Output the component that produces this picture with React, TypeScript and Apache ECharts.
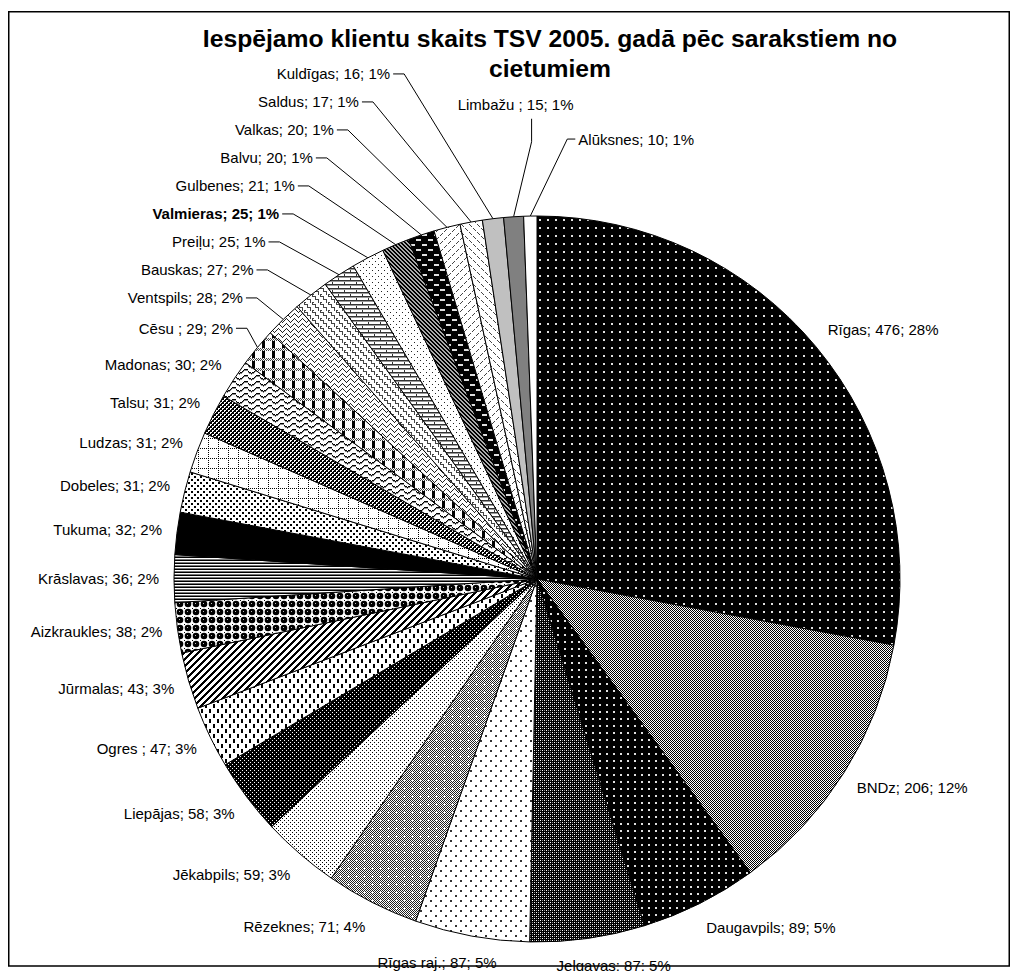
import React, { useEffect, useRef } from "react";
import * as echarts from "echarts";

const TITLE_LINES = ["Iespējamo klientu skaits TSV 2005. gadā pēc sarakstiem no", "cietumiem"];
const categories = [
  "Rīgas", "BNDz", "Daugavpils", "Jelgavas", "Rīgas raj.", "Rēzeknes", "Jēkabpils", "Liepājas",
  "Ogres ", "Jūrmalas", "Aizkraukles", "Krāslavas", "Tukuma", "Dobeles", "Ludzas", "Talsu",
  "Madonas", "Cēsu ", "Ventspils", "Bauskas", "Preiļu", "Valmieras", "Gulbenes", "Balvu",
  "Valkas", "Saldus", "Kuldīgas", "Limbažu ", "Alūksnes",
];
const values = [476, 206, 89, 87, 87, 71, 59, 58, 47, 43, 38, 36, 32, 31, 31, 31, 30, 29, 28, 27, 25, 25, 21, 20, 20, 17, 16, 15, 10];
const boldLabels = ["Valmieras"];
const aboveLabels = ["Limbažu"];
const rightLabels = ["Alūksnes"];

type Ctx = CanvasRenderingContext2D;
function tile(w: number, h: number, bg: string, draw?: (g: Ctx) => void) {
  const c = document.createElement("canvas");
  c.width = w;
  c.height = h;
  const g = c.getContext("2d") as Ctx;
  g.fillStyle = bg;
  g.fillRect(0, 0, w, h);
  if (draw) draw(g);
  return c;
}
function px(g: Ctx, color: string, pts: number[][]) {
  g.fillStyle = color;
  for (const p of pts) g.fillRect(p[0], p[1], p[2] ?? 1, p[3] ?? 1);
}

function buildPatterns(): HTMLCanvasElement[] {
  const list: HTMLCanvasElement[] = [];
  list.push(tile(8, 8, "#000", (g) => px(g, "#e0e0e0", [[3, 3, 2, 2]]))); // Rīgas
  list.push(tile(2, 2, "#fff", (g) => px(g, "#000", [[0, 0], [1, 1]]))); // BNDz
  list.push(tile(7, 7, "#000", (g) => px(g, "#e0e0e0", [[3, 3, 2, 2]]))); // Daugavpils
  list.push(tile(4, 4, "#000", (g) => { px(g, "#fff", [[0, 0], [2, 2]]); px(g, "#888", [[0, 2], [2, 0]]); })); // Jelgavas
  list.push(tile(10, 10, "#fff", (g) => px(g, "#333", [[2, 2, 2, 2], [7, 7, 2, 2]]))); // Rīgas raj.
  list.push(tile(8, 8, "#fff", (g) => { // Rēzeknes
    for (let y = 0; y < 8; y++) for (let x = 0; x < 8; x++) if ((x + y) % 2 === 0) px(g, "#222", [[x, y]]);
    px(g, "#fff", [[4, 3], [3, 4], [4, 4], [5, 4], [4, 5]]);
  }));
  list.push(tile(4, 4, "#fff", (g) => px(g, "#000", [[0, 0], [2, 2]]))); // Jēkabpils
  list.push(tile(4, 4, "#000", (g) => px(g, "#fff", [[0, 0], [2, 2]]))); // Liepājas
  list.push(tile(8, 10, "#fff", (g) => px(g, "#000", [[1, 1, 2, 4], [5, 6, 2, 4]]))); // Ogres
  list.push(tile(7, 7, "#fff", (g) => { // Jūrmalas
    for (let y = 0; y < 7; y++) for (let x = 0; x < 7; x++) if ((x + y) % 7 < 3) px(g, "#000", [[x, y]]);
  }));
  list.push(tile(8, 8, "#fff", (g) => { // Aizkraukles
    g.fillStyle = "#000";
    g.beginPath(); g.arc(4, 4, 3.3, 0, Math.PI * 2); g.fill();
    px(g, "#bbb", [[3, 3]]);
    px(g, "#000", [[0, 0]]);
  }));
  list.push(tile(2, 3, "#fff", (g) => { px(g, "#000", [[0, 0, 2, 1]]); px(g, "#777", [[0, 2, 2, 1]]); })); // Krāslavas
  list.push(tile(2, 2, "#000")); // Tukuma
  list.push(tile(6, 6, "#fff", (g) => px(g, "#000", [[0, 0, 2, 2], [3, 3, 2, 2]]))); // Dobeles
  list.push(tile(10, 10, "#fff", (g) => { for (let i = 0; i < 10; i += 2) px(g, "#000", [[i, 0], [0, i]]); })); // Ludzas
  list.push(tile(4, 4, "#fff", (g) => px(g, "#000", [[0, 0, 2, 2], [2, 2, 2, 2], [1, 3], [3, 1]]))); // Talsu
  list.push(tile(12, 6, "#fff", (g) => { // Madonas
    for (let x = 0; x < 12; x++) { const y = Math.round(2.5 + 2 * Math.sin((2 * Math.PI * x) / 12)); px(g, "#000", [[x, y]]); px(g, "#888", [[x, (y + 1) % 6]]); }
  }));
  list.push(tile(10, 10, "#fff", (g) => { // Cēsu
    for (let y = 0; y < 3; y++) for (let x = 0; x < 10; x++) if ((x + y) % 2 === 0) px(g, "#444", [[x, y]]);
    px(g, "#000", [[4, 3, 3, 7]]);
  }));
  list.push(tile(8, 5, "#fff", (g) => { // Ventspils
    for (let x = 0; x < 8; x++) { const y = Math.round(2 + 1.6 * Math.sin((2 * Math.PI * x) / 8)); px(g, "#222", [[x, y]]); }
  }));
  list.push(tile(8, 8, "#fff", (g) => px(g, "#444", [[0, 0, 4, 1], [3, 0, 1, 4], [3, 3, 4, 1], [6, 3, 1, 4], [0, 6, 1, 2], [0, 6, 2, 1]]))); // Bauskas
  list.push(tile(12, 8, "#fff", (g) => { px(g, "#333", [[0, 0, 12, 1], [0, 4, 12, 1], [0, 0, 1, 4], [6, 4, 1, 4]]); px(g, "#999", [[0, 1, 12, 1], [0, 5, 12, 1]]); })); // Preiļu
  list.push(tile(6, 6, "#fff", (g) => px(g, "#222", [[1, 1], [4, 4]]))); // Valmieras
  list.push(tile(4, 4, "#000", (g) => { // Gulbenes
    for (let y = 0; y < 4; y++) for (let x = 0; x < 4; x++) if ((x - y + 8) % 4 < 2) px(g, "#aaa", [[x, y]]);
  }));
  list.push(tile(12, 10, "#000", (g) => px(g, "#ddd", [[0, 1, 5, 2], [6, 6, 5, 2]]))); // Balvu
  list.push(tile(8, 8, "#fff", (g) => px(g, "#444", [[0, 3], [1, 2], [2, 1], [4, 7], [5, 6], [6, 5]]))); // Valkas
  list.push(tile(8, 8, "#fff", (g) => px(g, "#444", [[1, 4], [2, 5], [3, 6], [5, 0], [6, 1], [7, 2]]))); // Saldus
  list.push(tile(2, 2, "#c0c0c0")); // Kuldīgas
  list.push(tile(2, 2, "#808080")); // Limbažu
  list.push(tile(2, 2, "#fff")); // Alūksnes
  return list;
}

const CX = 529;
const CY = 571;
const R = 363;

export default function App() {
  const ref = useRef<HTMLDivElement>(null);
  useEffect(() => {
    document.body.style.overflow = "hidden";
    const chart = echarts.init(ref.current as HTMLDivElement, undefined, { renderer: "svg" });
    const patterns = buildPatterns();
    const total = values.reduce((a, b) => a + b, 0);
    const midAngles: number[] = [];
    let cum = 0;
    values.forEach((v) => {
      midAngles.push(((90 - (360 * (cum + v / 2)) / total) * Math.PI) / 180);
      cum += v;
    });
    const edge = (i: number) => [CX + R * Math.cos(midAngles[i]), CY - R * Math.sin(midAngles[i])];
    const special = (i: number) => {
      const n = categories[i].trim();
      return aboveLabels.includes(n) || rightLabels.includes(n);
    };
    const hasLine = (i: number) => values[i] < 30;

    // stacked (leader-line) labels on the upper left, pushed upwards
    const stackY: Record<number, number> = {};
    let prevY = Infinity;
    for (let i = 0; i < values.length; i++) {
      if (!hasLine(i) || special(i)) continue;
      const ny = CY - (R + 30) * Math.sin(midAngles[i]);
      const y = Math.min(ny, prevY - 28);
      stackY[i] = y;
      prevY = y;
    }

    const data = categories.map((name, i) => {
      const p = patterns[i];
      const item: any = {
        name,
        value: values[i],
        itemStyle: { color: { image: p, repeat: "repeat", imageWidth: p.width, imageHeight: p.height } },
        labelLine: { show: hasLine(i) },
      };
      if (boldLabels.includes(name.trim())) item.label = { fontWeight: "bold" };
      return item;
    });
    const font = "'Liberation Sans', Arial, sans-serif";
    chart.setOption({
      animation: false,
      graphic: [
        ...TITLE_LINES.map((t, i) => ({
          type: "text",
          x: 542,
          y: 30 + i * 30,
          style: { text: t, fontSize: 24.7, fontWeight: "bold", fontFamily: font, fill: "#000", align: "center", verticalAlign: "middle" },
        })),
        {
          type: "rect",
          z: 100,
          shape: { x: 0.75, y: 3.75, width: 1000.5, height: 954.25 },
          style: { fill: "none", stroke: "#000", lineWidth: 1.5 },
          silent: true,
        },
      ],
      series: [
        {
          type: "pie",
          center: [CX, CY],
          radius: R,
          startAngle: 90,
          clockwise: true,
          silent: true,
          data,
          itemStyle: { borderColor: "#000", borderWidth: 1 },
          label: {
            show: true,
            position: "outside",
            color: "#000",
            fontSize: 15,
            fontFamily: font,
            formatter: (p: any) => `${p.name}; ${p.value}; ${Math.round((p.value / total) * 100)}%`,
          },
          labelLine: { show: false, length: 10, length2: 8, lineStyle: { color: "#000", width: 1 } },
          labelLayout: (params: any) => {
            const i = params.dataIndex;
            const name = categories[i].trim();
            const [ex, ey] = edge(i);
            if (aboveLabels.includes(name)) {
              return {
                x: ex + 2,
                y: ey - 112,
                align: "center",
                verticalAlign: "middle",
                labelLinePoints: [[ex, ey], [ex + 18, ey - 75], [ex + 18, ey - 98]],
              };
            }
            if (rightLabels.includes(name)) {
              return {
                x: ex + 48,
                y: ey - 77,
                align: "left",
                verticalAlign: "middle",
                labelLinePoints: [[ex, ey], [ex + 37, ey - 77], [ex + 45, ey - 77]],
              };
            }
            if (stackY[i] !== undefined) {
              const y = stackY[i];
              const dy = (CY - y) / 560;
              const xr = CX - 340 * Math.sqrt(Math.max(0, 1 - dy * dy));
              return {
                x: xr,
                y,
                align: "right",
                verticalAlign: "middle",
                labelLinePoints: [[ex, ey], [xr + 14, y], [xr + 3, y]],
              };
            }
            const c = Math.cos(midAngles[i]);
            const s = Math.sin(midAngles[i]);
            const w = params.labelRect.width;
            const ax = CX + (R + 15) * c;
            const ay = CY - (R + 27) * s;
            const f = Math.min(1, Math.max(0, 0.5 - 1.5 * c));
            return { x: ax - f * w, y: ay, align: "left", verticalAlign: "middle" };
          },
        },
      ],
    });
    return () => chart.dispose();
  }, []);
  return <div ref={ref} style={{ width: 1002, height: 963 }} />;
}
